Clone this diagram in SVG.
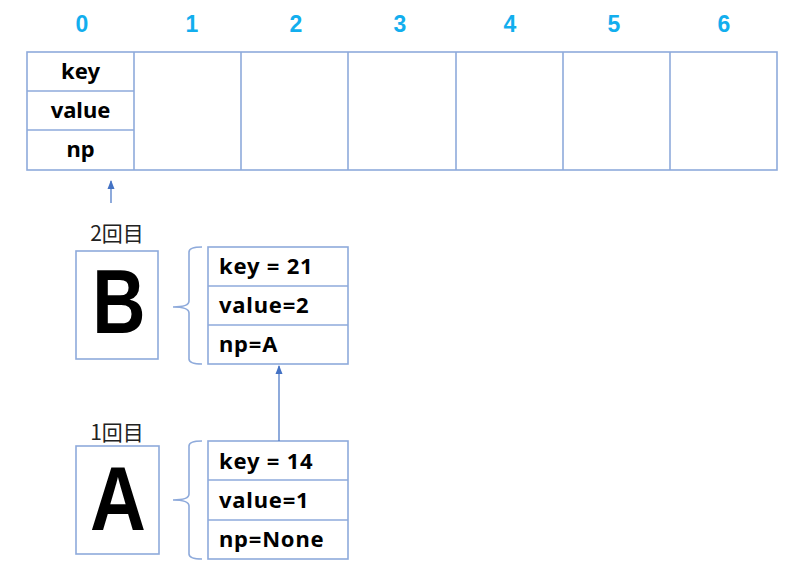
<svg xmlns="http://www.w3.org/2000/svg" width="806" height="586" viewBox="0 0 806 586">
<defs>
<style>
.cell{fill:#fff;stroke:#8eaadb;stroke-width:1.6}
.ln{fill:none;stroke:#8eaadb;stroke-width:1.6}
.idx{font-family:"Liberation Sans","Noto Sans",sans-serif;font-weight:bold;font-size:23px;fill:#12aeee;text-anchor:middle}
.fld{font-family:"Noto Sans","Liberation Sans",sans-serif;font-weight:bold;font-size:22px;fill:#000}
.rec{letter-spacing:0.8px}
.c{text-anchor:middle}
.cnt{font-family:"Noto Sans CJK JP","Liberation Sans",sans-serif;font-size:21px;fill:#222;text-anchor:middle}
.big{font-family:"Liberation Sans","Noto Sans",sans-serif;font-weight:bold;font-size:90px;fill:#000;text-anchor:middle}
.arr{fill:none;stroke:#4472c4;stroke-width:1.2}
</style>
</defs>

<g id="indices">
<text class="idx" x="82" y="32">0</text>
<text class="idx" x="192" y="32">1</text>
<text class="idx" x="296" y="32">2</text>
<text class="idx" x="400" y="32">3</text>
<text class="idx" x="510" y="32">4</text>
<text class="idx" x="614" y="32">5</text>
<text class="idx" x="724" y="32">6</text>
</g>

<g id="table">
<rect class="cell" x="27" y="52" width="750" height="118"/>
<line class="ln" x1="134" y1="52" x2="134" y2="170"/>
<line class="ln" x1="241" y1="52" x2="241" y2="170"/>
<line class="ln" x1="348" y1="52" x2="348" y2="170"/>
<line class="ln" x1="456" y1="52" x2="456" y2="170"/>
<line class="ln" x1="563" y1="52" x2="563" y2="170"/>
<line class="ln" x1="670" y1="52" x2="670" y2="170"/>
<line class="ln" x1="27" y1="91" x2="134" y2="91"/>
<line class="ln" x1="27" y1="130" x2="134" y2="130"/>
<text class="fld c" x="80.5" y="79">key</text>
<text class="fld c" x="80.5" y="118">value</text>
<text class="fld c" x="80.5" y="157">np</text>
</g>

<g id="label-B">
<text class="cnt" x="117" y="241">2回目</text>
<rect class="cell" x="76" y="251" width="82" height="108"/>
<text class="big" transform="translate(119,333) scale(0.82,1)" x="0" y="0">B</text>
</g>

<g id="record-B">
<path class="ln" d="M202,247 Q189,247 189,252 L189,301 Q189,307 173,307 Q189,307 189,313 L189,359 Q189,364 202,364"/>
<rect class="cell" x="208" y="247" width="140" height="117"/>
<line class="ln" x1="208" y1="286" x2="348" y2="286"/>
<line class="ln" x1="208" y1="325" x2="348" y2="325"/>
<text class="fld rec" x="219" y="274">key = 21</text>
<text class="fld rec" x="219" y="313">value=2</text>
<text class="fld rec" x="219" y="352">np=A</text>
</g>

<g id="label-A">
<text class="cnt" x="117" y="440">1回目</text>
<rect class="cell" x="76" y="446" width="83" height="108"/>
<text class="big" transform="translate(118,530) scale(0.86,1)" x="0" y="0">A</text>
</g>

<g id="record-A">
<path class="ln" d="M202,441 Q189,441 189,446 L189,494 Q189,500 173,500 Q189,500 189,506 L189,554 Q189,559 202,559"/>
<rect class="cell" x="208" y="441" width="140" height="118"/>
<line class="ln" x1="208" y1="480" x2="348" y2="480"/>
<line class="ln" x1="208" y1="520" x2="348" y2="520"/>
<text class="fld rec" x="219" y="469">key = 14</text>
<text class="fld rec" x="219" y="508">value=1</text>
<text class="fld rec" x="219" y="547">np=None</text>
</g>

<g id="connectors">
<line class="arr" x1="111" y1="203" x2="111" y2="181"/>
<path d="M107.5,189 L111,180 L114.5,189 Z" fill="#4472c4"/>
<line class="arr" x1="279" y1="441" x2="279" y2="366"/>
<path d="M275.5,374 L279,365 L282.5,374 Z" fill="#4472c4"/>
</g>
</svg>
